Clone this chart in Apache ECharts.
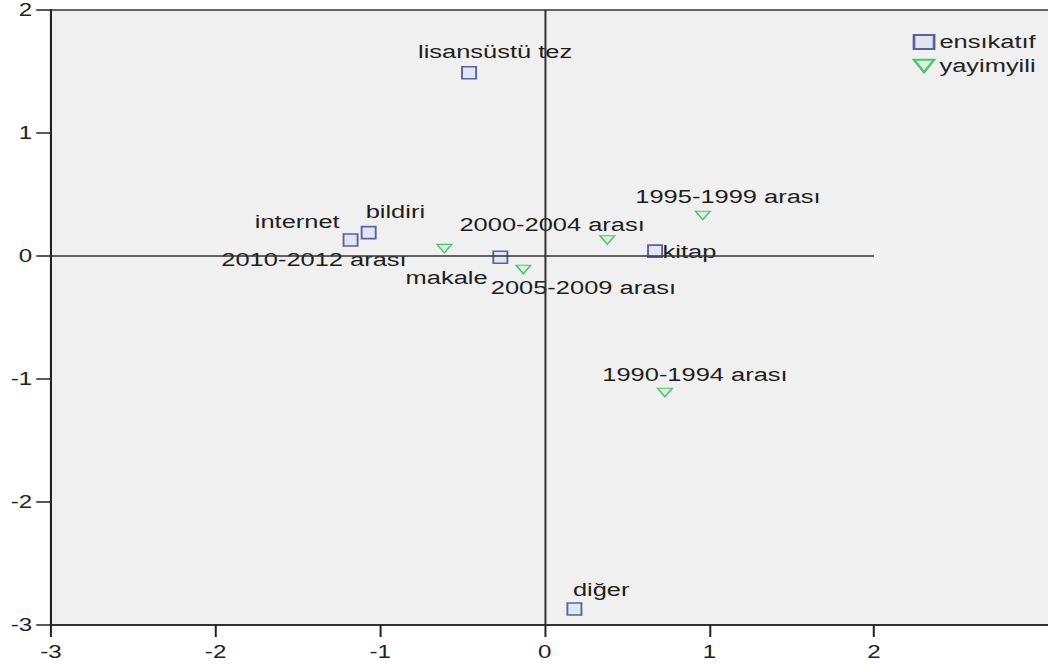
<!DOCTYPE html>
<html>
<head>
<meta charset="utf-8">
<script src="https://cdn.jsdelivr.net/npm/echarts@6/dist/echarts.min.js"></script>
<style>
html,body{margin:0;padding:0;background:#ffffff;overflow:hidden;}
#wrap{width:1048px;height:666px;overflow:hidden;position:relative;}
#chart{width:782px;height:666px;transform:scaleX(1.34015);transform-origin:0 0;}
</style>
</head>
<body>
<div id="wrap"><div id="chart"></div></div>
<script>
// ---- data ----
const xTicks = [-3, -2, -1, 0, 1, 2];
const yTicks = [-3, -2, -1, 0, 1, 2];

const ensName = 'ensıkatıf';
const ensCats = ['lisansüstü tez', 'internet', 'bildiri', 'makale', 'kitap', 'diğer'];
const ensX = [-0.46, -1.18, -1.07, -0.27, 0.67, 0.18];
const ensY = [1.49, 0.13, 0.19, -0.01, 0.04, -2.87];

const yayName = 'yayimyili';
const yayCats = ['1990-1994 arası', '1995-1999 arası', '2000-2004 arası', '2005-2009 arası', '2010-2012 arası'];
const yayX = [0.73, 0.96, 0.38, -0.13, -0.61];
const yayY = [-1.11, 0.33, 0.13, -0.11, 0.06];

const vZeroLine = [[0, -3], [0, 2]];
const hZeroLine = [[-3, 0], [2, 0]];

// ---- label placement (layout only) ----
const labelOffset = {
  'lisansüstü tez': [19.4, -20.6],
  'internet': [-39.8, -18.3],
  'bildiri': [19.9, -21],
  'makale': [-40.1, 20.8],
  'kitap': [25.7, 0.7],
  'diğer': [20, -19.5],
  '1990-1994 arası': [22.4, -17.7],
  '1995-1999 arası': [18.8, -18.6],
  '2000-2004 arası': [-41.2, -15],
  '2005-2009 arası': [44.8, 18],
  '2010-2012 arası': [-97.3, 10.6]
};

const FONT = "'Liberation Sans', Arial, sans-serif";
const TRI = 'path://M0,0L10,0L5,8Z';

function build(names, xs, ys) {
  return names.map((n, i) => ({
    name: n,
    value: [xs[i], ys[i]],
    label: { offset: labelOffset[n] || [0, -18] }
  }));
}

const chart = echarts.init(document.getElementById('chart'), null, { renderer: 'svg' });
chart.setOption({
  animation: false,
  backgroundColor: '#ffffff',
  textStyle: { fontFamily: FONT },
  grid: {
    left: 38.05, right: -5.25, top: 10, bottom: 41,
    show: true, backgroundColor: '#f0f0f0', borderColor: '#333333', borderWidth: 1.5,
    outerBoundsMode: 'none', containLabel: false
  },
  legend: {
    orient: 'vertical', left: 676, top: 27,
    itemWidth: 15, itemHeight: 14, itemGap: 4, symbolKeepAspect: true,
    textStyle: { fontFamily: FONT, fontSize: 19, color: '#222222', lineHeight: 20, padding: [0, 0, 0, -1] },
    data: [
      { name: ensName, icon: 'rect' },
      { name: yayName, icon: 'path://M0,0L12,0L6,10Z' }
    ]
  },
  xAxis: {
    type: 'value', min: -3, max: 3.1,
    axisLine: { show: true, onZero: false, lineStyle: { color: '#222222', width: 1.5 } },
    axisTick: { show: true, length: 12, customValues: xTicks, lineStyle: { color: '#222222', width: 1.5 } },
    axisLabel: { customValues: xTicks, margin: 18, fontSize: 18, color: '#222222', fontFamily: FONT },
    splitLine: { show: false }
  },
  yAxis: {
    type: 'value', min: -3, max: 2, interval: 1,
    axisLine: { show: true, onZero: false, lineStyle: { color: '#222222', width: 1.5 } },
    axisTick: { show: true, length: 11, customValues: yTicks, lineStyle: { color: '#222222', width: 1.5 } },
    axisLabel: { customValues: yTicks, margin: 14, fontSize: 18, color: '#222222', fontFamily: FONT, padding: [6, 0, 0, 0] },
    splitLine: { show: false }
  },
  series: [
    {
      name: ensName, type: 'scatter',
      symbol: 'rect', symbolSize: [10.5, 12],
      itemStyle: { color: '#e2e5f3', borderColor: '#5b609f', borderWidth: 1.5, opacity: 1 },
      label: {
        show: true, position: 'inside', formatter: '{b}',
        fontSize: 19, color: '#1e1e1e', fontFamily: FONT, align: 'center', verticalAlign: 'middle'
      },
      data: build(ensCats, ensX, ensY),
      z: 3
    },
    {
      name: yayName, type: 'scatter',
      symbol: TRI, symbolSize: [11, 8.5],
      itemStyle: { color: '#d6f1dc', borderColor: '#55c06f', borderWidth: 1.2, opacity: 1 },
      label: {
        show: true, position: 'inside', formatter: '{b}',
        fontSize: 19, color: '#1e1e1e', fontFamily: FONT, align: 'center', verticalAlign: 'middle'
      },
      data: build(yayCats, yayX, yayY),
      z: 3
    },
    {
      name: 'zero', type: 'line', data: [], silent: true, z: 4,
      markLine: {
        silent: true, symbol: ['none', 'none'], label: { show: false },
        lineStyle: { color: '#333333', width: 1.5, type: 'solid' },
        data: [
          [{ coord: vZeroLine[0] }, { coord: vZeroLine[1] }],
          [{ coord: hZeroLine[0] }, { coord: hZeroLine[1] }]
        ]
      }
    }
  ]
});
</script>
</body>
</html>
